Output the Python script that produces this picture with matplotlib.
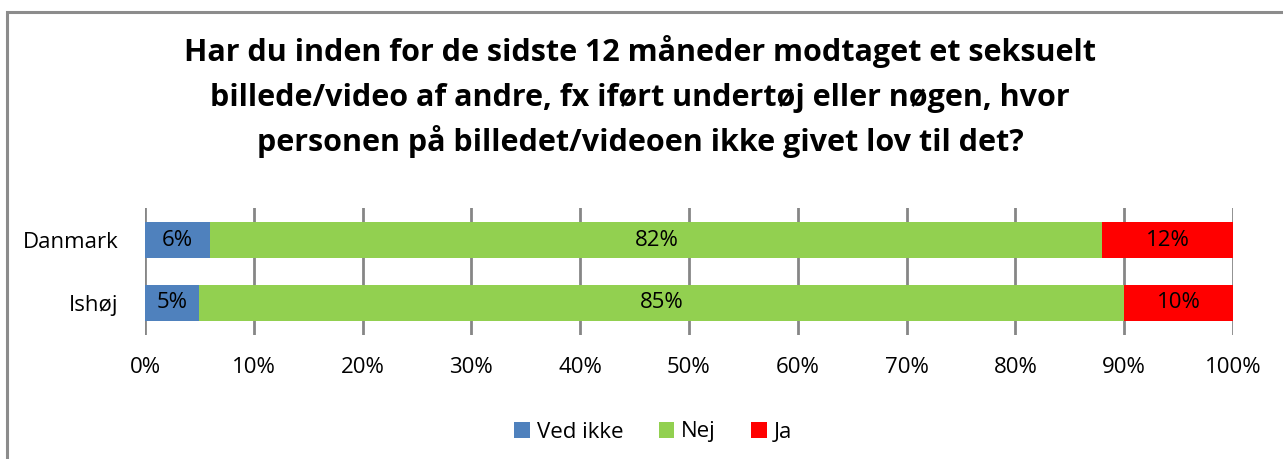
import matplotlib
matplotlib.use("Agg")
import matplotlib.pyplot as plt
from matplotlib.patches import Rectangle, Patch
import numpy as np

plt.rcParams['font.family'] = ['Open Sans', 'DejaVu Sans']

categories = ["Danmark", "Ishøj"]
series_names = ["Ved ikke", "Nej", "Ja"]
ved_ikke = [6, 5]
nej = [82, 85]
ja = [12, 10]
colors = ["#4F81BD", "#92D050", "#FF0000"]
xticks = [0, 10, 20, 30, 40, 50, 60, 70, 80, 90, 100]
title_lines = ["Har du inden for de sidste 12 måneder modtaget et seksuelt",
               "billede/video af andre, fx iført undertøj eller nøgen, hvor",
               "personen på billedet/videoen ikke givet lov til det?"]

W, H = 1283, 459
fig = plt.figure(figsize=(W / 100, H / 100), dpi=100)
fig.patch.set_facecolor("white")

# outer border
fig.patches.append(Rectangle((6.5 / W, -0.1), 1.2, 1 - 12 / H + 0.1, transform=fig.transFigure,
                             fill=False, edgecolor="#8C8C8C", linewidth=2.2))

ax = fig.add_axes([145 / W, 1 - 335 / H, (1233 - 145) / W, 127 / H])
y = np.arange(len(categories))
left = np.zeros(len(categories))
for name, vals, c in zip(series_names, [ved_ikke, nej, ja], colors):
    vals = np.array(vals, dtype=float)
    ax.barh(y, vals, left=left, height=0.587, color=c, label=name, zorder=3)
    for yi, l, v in zip(y, left, vals):
        ax.text(l + v / 2, yi, f"{int(v)}%", ha="center", va="center",
                fontsize=16, color="black", zorder=4)
    left += vals

ax.set_xlim(0, 100)
ax.set_ylim(1.508, -0.508)
ax.set_yticks(y)
ax.set_yticklabels(categories, fontsize=16)
ax.set_xticks(xticks)
ax.set_xticklabels([f"{t}%" for t in xticks], fontsize=16)
ax.tick_params(axis="x", length=0, pad=16)
ax.tick_params(axis="y", length=0, pad=19)
for s in ax.spines.values():
    s.set_visible(False)
ax.xaxis.grid(True, color="#868686", linewidth=2, zorder=1)
ax.set_axisbelow(True)

for i, line in enumerate(title_lines):
    fig.text(640 / W, 1 - (61 + 45 * i) / H, line, ha="center", va="baseline",
             fontsize=22, fontweight="bold")

handles = [Patch(facecolor=c, label=n) for n, c in zip(series_names, colors)]
fig.legend(handles=handles, loc="center", bbox_to_anchor=(653 / W, 1 - 432 / H),
           ncol=3, frameon=False, fontsize=16, handlelength=0.7, handleheight=0.7,
           handletextpad=0.3, columnspacing=1.6)

fig.savefig("out.png", dpi=100)
